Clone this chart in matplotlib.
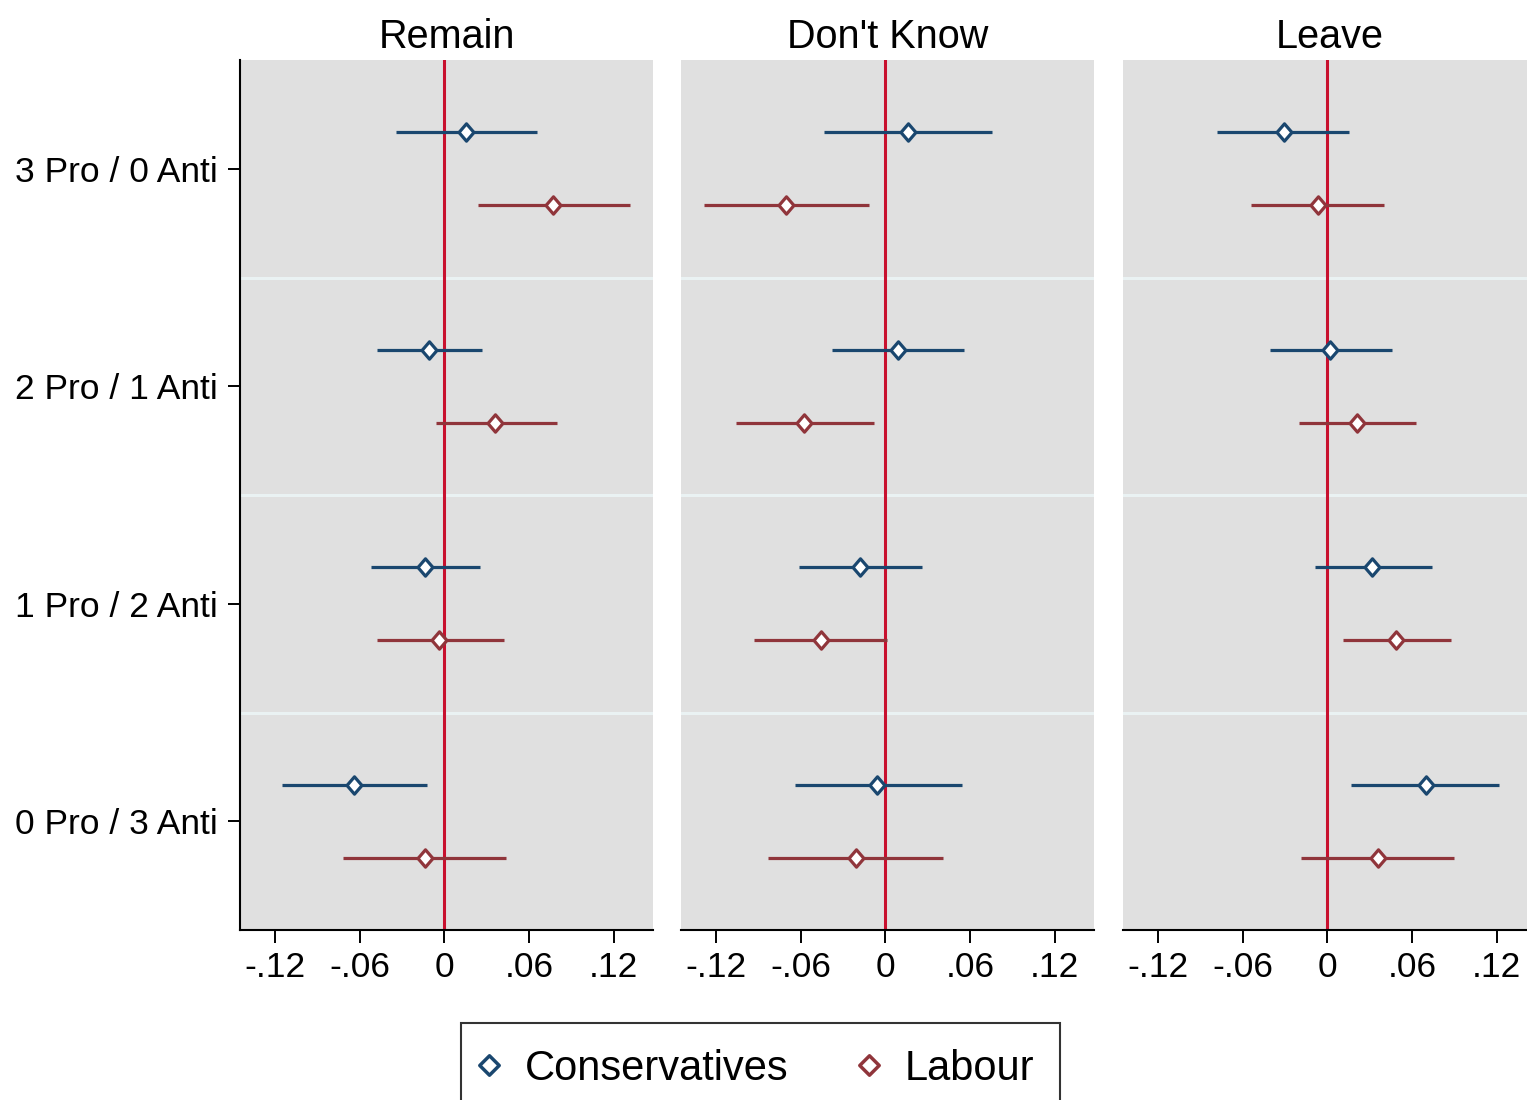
import matplotlib
matplotlib.use("Agg")
import matplotlib.pyplot as plt
from matplotlib.path import Path
from matplotlib.lines import Line2D
import numpy as np

plt.rcParams['font.family'] = ['Liberation Sans', 'DejaVu Sans']

panels = ["Remain", "Don't Know", "Leave"]
categories = ["3 Pro / 0 Anti", "2 Pro / 1 Anti", "1 Pro / 2 Anti", "0 Pro / 3 Anti"]
xticks = [-0.12, -0.06, 0, 0.06, 0.12]
xticklabels = ["-.12", "-.06", "0", ".06", ".12"]

# Conservatives: estimate, lower, upper per panel (rows = categories)
con_est = {
    "Remain":     [0.0156, -0.011, -0.014, -0.064],
    "Don't Know": [0.0157, 0.0086, -0.018, -0.0057],
    "Leave":      [-0.031, 0.002, 0.032, 0.070],
}
con_lo = {
    "Remain":     [-0.034, -0.048, -0.052, -0.115],
    "Don't Know": [-0.0436, -0.038, -0.061, -0.064],
    "Leave":      [-0.0786, -0.041, -0.009, 0.017],
}
con_hi = {
    "Remain":     [0.066, 0.027, 0.025, -0.012],
    "Don't Know": [0.0757, 0.056, 0.026, 0.054],
    "Leave":      [0.015, 0.046, 0.074, 0.122],
}
lab_est = {
    "Remain":     [0.077, 0.036, -0.0036, -0.014],
    "Don't Know": [-0.0707, -0.058, -0.046, -0.021],
    "Leave":      [-0.007, 0.021, 0.049, 0.036],
}
lab_lo = {
    "Remain":     [0.024, -0.006, -0.048, -0.072],
    "Don't Know": [-0.1286, -0.106, -0.093, -0.083],
    "Leave":      [-0.054, -0.020, 0.011, -0.019],
}
lab_hi = {
    "Remain":     [0.132, 0.080, 0.042, 0.044],
    "Don't Know": [-0.0114, -0.008, 0.0014, 0.041],
    "Leave":      [0.040, 0.063, 0.088, 0.090],
}

navy = '#1a476f'
maroon = '#90353b'
red = '#c8102e'
bg = '#e0e0e0'
sep = '#eaf2f3'


def diamond_path(r):
    return Path([(0, 1), (r, 0), (0, -1), (-r, 0), (0, 1)],
                [Path.MOVETO, Path.LINETO, Path.LINETO, Path.LINETO, Path.CLOSEPOLY])


diamond = diamond_path(0.86)
diamond_leg = diamond_path(1.0)

W, H = 1527, 1100
fig = plt.figure(figsize=(W / 100, H / 100), dpi=100)

lefts = [240, 681, 1123]
axw = 413
top_px, bot_px = 60, 930

ypos = np.arange(len(categories))
off = 0.167

for i, (p, lp) in enumerate(zip(panels, lefts)):
    ax = fig.add_axes([lp / W, 1 - bot_px / H, axw / W, (bot_px - top_px) / H])
    ax.set_facecolor(bg)
    ax.set_xlim(-0.145, 0.148)
    ax.set_ylim(3.5, -0.5)
    for b in [0.5, 1.5, 2.5]:
        ax.axhline(b, color=sep, lw=2.2, zorder=1)
    ax.axvline(0, color=red, lw=2.2, zorder=2)
    yc = ypos - off
    yl = ypos + off
    ax.hlines(yc, con_lo[p], con_hi[p], color=navy, lw=2.3, zorder=3)
    ax.hlines(yl, lab_lo[p], lab_hi[p], color=maroon, lw=2.3, zorder=3)
    ax.plot(con_est[p], yc, ls='none', marker=diamond, ms=12.5, mfc='white',
            mec=navy, mew=2.3, zorder=4)
    ax.plot(lab_est[p], yl, ls='none', marker=diamond, ms=12.5, mfc='white',
            mec=maroon, mew=2.3, zorder=4)
    ax.set_xticks(xticks)
    ax.set_xticklabels(xticklabels, fontsize=25.5)
    ax.tick_params(axis='x', length=9, width=1.4, pad=6)
    for s in ['top', 'right']:
        ax.spines[s].set_visible(False)
    ax.spines['bottom'].set_linewidth(1.5)
    if i == 0:
        ax.set_yticks(ypos)
        ax.set_yticklabels(categories, fontsize=25.5)
        ax.tick_params(axis='y', length=9, width=1.4, pad=7)
        ax.spines['left'].set_linewidth(1.5)
    else:
        ax.set_yticks([])
        ax.spines['left'].set_visible(False)
    ax.set_title(p, fontsize=28.5, pad=9)

handles = [
    Line2D([], [], ls='none', marker=diamond_leg, ms=14, mfc='white', mec=navy, mew=2.5),
    Line2D([], [], ls='none', marker=diamond_leg, ms=14, mfc='white', mec=maroon, mew=2.5),
]
leg = fig.legend(handles, ["Conservatives", "Labour"], loc='upper center',
                 bbox_to_anchor=(760.5 / W, 1 - 1023 / H), ncol=2, fontsize=30,
                 frameon=True, fancybox=False, edgecolor='black', borderpad=0.62,
                 handlelength=0.1, handletextpad=0.82, columnspacing=1.87,
                 borderaxespad=0)
leg.get_frame().set_linewidth(1.5)

fig.savefig('out.png', dpi=100)
